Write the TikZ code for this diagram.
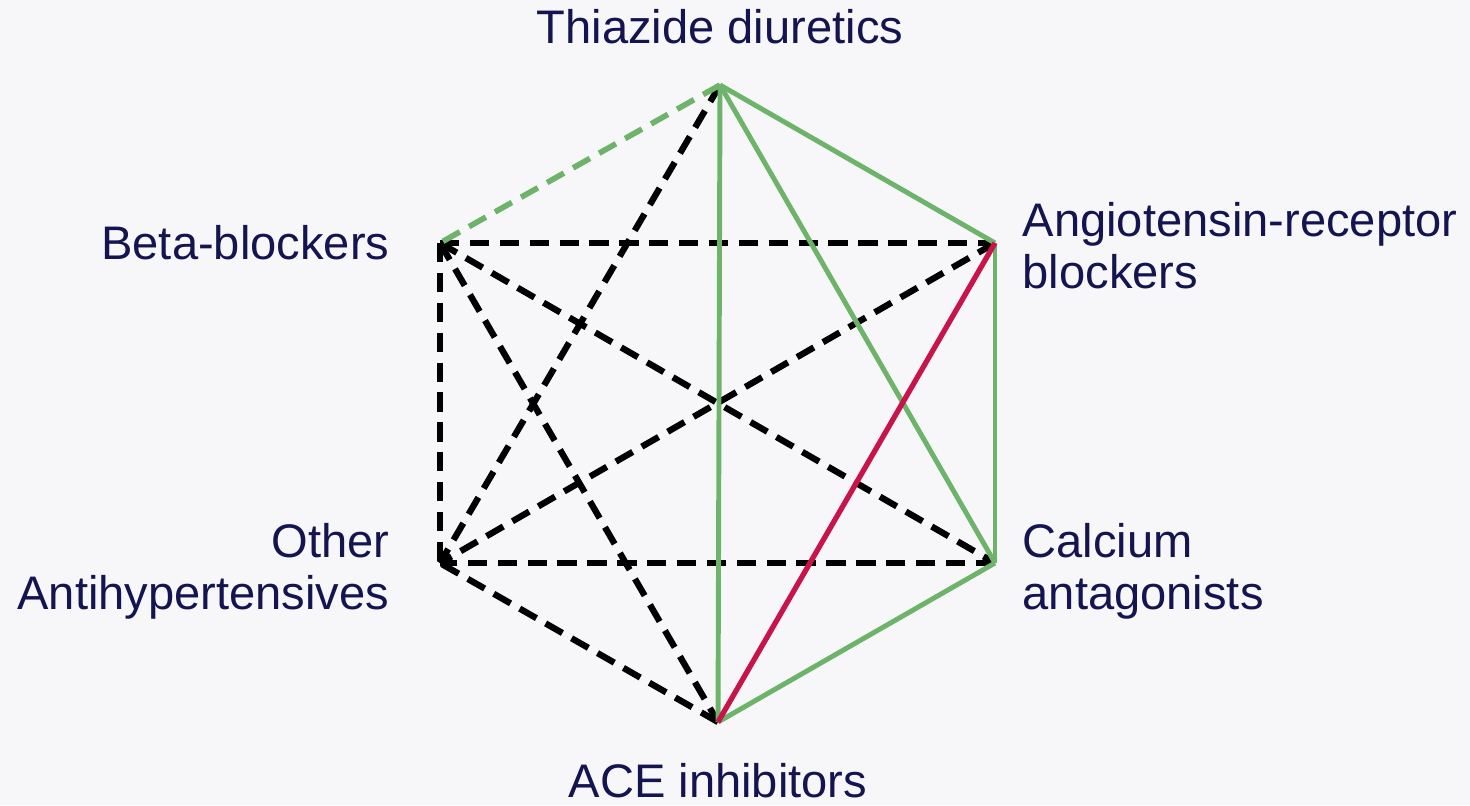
\documentclass[tikz,border=0pt]{standalone}
\usepackage{fontspec}
\setmainfont{Liberation Sans}
\usetikzlibrary{positioning}
\definecolor{labelblue}{HTML}{141450}
\definecolor{goodgreen}{HTML}{6DB46A}
\definecolor{badred}{HTML}{C8144B}
\definecolor{paper}{HTML}{F7F7FA}
\begin{document}
\begin{tikzpicture}[
        drug/.style={inner sep=0pt, text=labelblue, font=\fontsize{13.4}{14.8}\selectfont},
        synergy/.style={draw=goodgreen, line width=1.4pt},
        preferred/.style={draw=badred, line width=1.5pt},
        possible/.style={draw=goodgreen, line width=1.6pt, dash pattern=on 5.5pt off 3pt},
        unproven/.style={draw=black, line width=1.8pt, dash pattern=on 5.5pt off 3pt}
    ]
    \fill[paper] (0,0) rectangle (14.70,-8.05);
    % corners of the hexagon
    \coordinate (th) at (7.20,-0.85);
    \coordinate (arb) at (9.95,-2.43);
    \coordinate (ca) at (9.95,-5.63);
    \coordinate (ace) at (7.18,-7.22);
    \coordinate (oa) at (4.40,-5.63);
    \coordinate (bb) at (4.40,-2.43);
    % labels
    \node[drug, above=0.40cm of th] (thlabel) {Thiazide diuretics};
    \node[drug, right=0.27cm of arb, align=left, yshift=-0.03cm] (arblabel) {Angiotensin-receptor\\blockers};
    \node[drug, right=0.27cm of ca, align=left, yshift=-0.08cm] (calabel) {Calcium\\antagonists};
    \node[drug, below=0.41cm of ace] (acelabel) {ACE inhibitors};
    \node[drug, left=0.50cm of oa, align=right, yshift=-0.08cm] (oalabel) {Other\\Antihypertensives};
    \node[drug, left=0.50cm of bb] (bblabel) {Beta-blockers};
    % black: less proven combinations
    \draw[unproven] (bb) -- (arb);
    \draw[unproven] (bb) -- (oa);
    \draw[unproven] (bb) -- (ca);
    \draw[unproven] (bb) -- (ace);
    \draw[unproven] (th) -- (oa);
    \draw[unproven] (arb) -- (oa);
    \draw[unproven] (ca) -- (oa);
    \draw[unproven] (ace) -- (oa);
    % green and red
    \draw[possible] (th) -- (bb);
    \draw[synergy] (th) -- (arb);
    \draw[synergy] (th) -- (ca);
    \draw[synergy] (th) -- (ace);
    \draw[synergy] (arb) -- (ca);
    \draw[synergy] (ca) -- (ace);
    \draw[preferred] (arb) -- (ace);
\end{tikzpicture}
\end{document}
